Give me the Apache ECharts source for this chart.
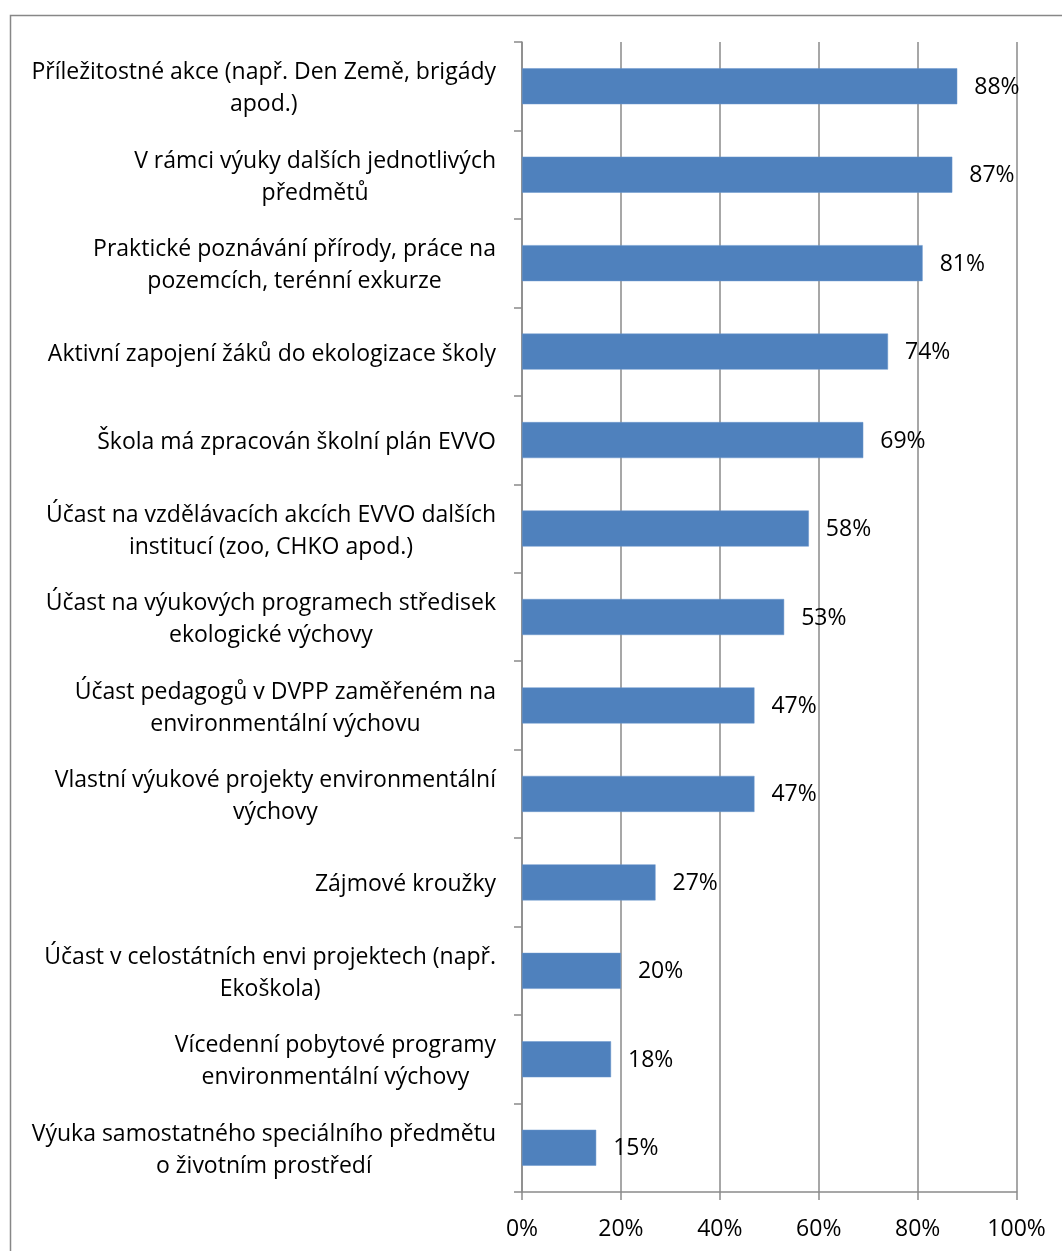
<!DOCTYPE html>
<html>
<head>
<meta charset="utf-8">
<script src="https://cdn.jsdelivr.net/npm/echarts@6/dist/echarts.min.js"></script>
<style>
html,body{margin:0;padding:0;background:#fff;}
#chart{width:1062px;height:1251px;}
</style>
</head>
<body>
<div id="chart"></div>
<script>
const categories = [
  "Příležitostné akce (např. Den Země, brigády\napod.)",
  "V rámci výuky dalších jednotlivých\npředmětů",
  "Praktické poznávání přírody, práce na\npozemcích, terénní exkurze",
  "Aktivní zapojení žáků do ekologizace školy",
  "Škola má zpracován školní plán EVVO",
  "Účast na vzdělávacích akcích EVVO dalších\ninstitucí (zoo, CHKO apod.)",
  "Účast na výukových programech středisek\nekologické výchovy",
  "Účast pedagogů v DVPP zaměřeném na\nenvironmentální výchovu",
  "Vlastní výukové projekty environmentální\nvýchovy",
  "Zájmové kroužky",
  "Účast v celostátních envi projektech (např.\nEkoškola)",
  "Vícedenní pobytové programy\nenvironmentální výchovy",
  "Výuka samostatného speciálního předmětu\no životním prostředí"
];
const values = [88, 87, 81, 74, 69, 58, 53, 47, 47, 27, 20, 18, 15];
const xTicks = [0, 20, 40, 60, 80, 100];

const FONT = 'Open Sans';
const FS = 23;
const chart = echarts.init(document.getElementById('chart'), null, {renderer: 'canvas'});
const gray = '#8a8a8a';
chart.setOption({
  animation: false,
  backgroundColor: '#fff',
  graphic: [{
    type: 'rect', left: 8, top: 13, shape: {width: 1070, height: 1260},
    style: {fill: 'none', stroke: '#878787', lineWidth: 1.5}, silent: true
  }],
  grid: {left: 522, right: 45.4, top: 42, bottom: 59, containLabel: false},
  xAxis: {
    type: 'value', min: xTicks[0], max: xTicks[xTicks.length - 1], interval: 20,
    axisLine: {show: true, lineStyle: {color: gray, width: 1.5}},
    axisTick: {show: true, length: 8, lineStyle: {color: gray, width: 1.5}},
    splitLine: {show: true, lineStyle: {color: gray, width: 1.5}},
    axisLabel: {formatter: v => v + '%', color: '#000', fontFamily: FONT, fontSize: FS, margin: 26}
  },
  yAxis: {
    type: 'category', data: categories, inverse: true,
    axisLine: {show: true, lineStyle: {color: gray, width: 1.5}},
    axisTick: {show: true, length: 8, lineStyle: {color: gray, width: 1.5}},
    axisLabel: {
      margin: 26, color: '#000', fontFamily: FONT, fontSize: FS, lineHeight: 32,
      padding: [5, 0, 0, 0],
      formatter: v => v.split('\n').map(s => '{c|' + s + '}').join('\n'),
      rich: {c: {align: 'center', fontFamily: FONT, fontSize: FS, lineHeight: 32, color: '#000'}}
    }
  },
  series: [{
    type: 'bar', data: values, barWidth: 36,
    itemStyle: {color: '#4F81BD', borderColor: '#6a96cc', borderWidth: 0.5},
    label: {show: true, position: 'right', distance: 17, offset: [0, 1], formatter: p => p.value + '%',
      color: '#000', fontFamily: FONT, fontSize: FS}
  }]
});
</script>
</body>
</html>
